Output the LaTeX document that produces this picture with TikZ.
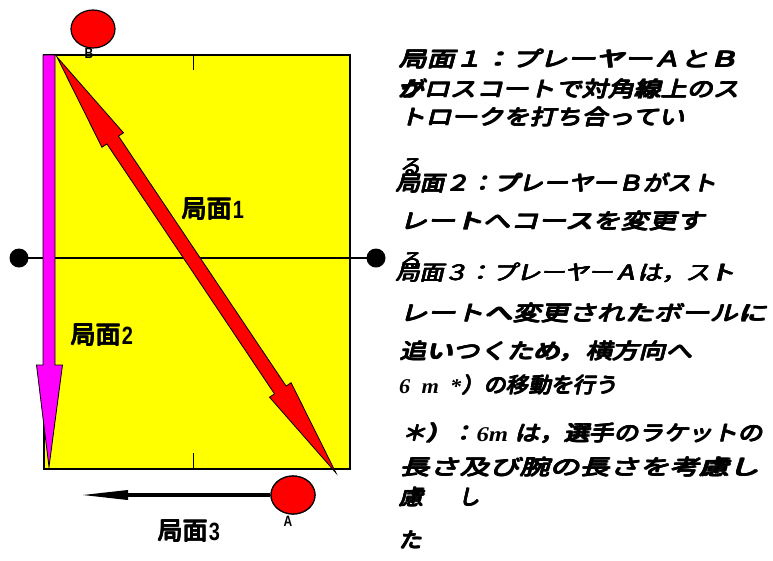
\documentclass[tikz,border=0pt]{standalone}
\usepackage{fontspec}
\usepackage{graphicx}
\usetikzlibrary{calc,arrows.meta,shapes.geometric}
\newfontfamily\cjkit[FakeSlant=0.2]{Noto Sans CJK JP}
\newfontfamily\cjkbf{Noto Sans CJK JP}
\newfontfamily\lsans{Liberation Sans}
\newfontfamily\lserif{Liberation Serif}
\newcommand\fitw[2]{\resizebox{#1}{\height}{#2}}
\newcommand\hv[1]{\rlap{#1}\rlap{\raisebox{0.7pt}{#1}}\rlap{\kern0.9pt\raisebox{0.7pt}{#1}}\rlap{\kern0.45pt\raisebox{0.35pt}{#1}}\kern0.9pt#1}
\newcommand\serbi{\lserif\bfseries\itshape}
\definecolor{courty}{RGB}{255,255,0}
\definecolor{ballr}{RGB}{255,0,0}
\definecolor{magb}{RGB}{255,0,255}
\begin{document}
\begin{tikzpicture}[x=1pt,y=-1pt,
  txt/.style={anchor=west,inner sep=0pt,font=\cjkit\fontsize{21}{21}\selectfont},
  lab/.style={inner sep=0pt,font=\cjkbf\fontsize{25}{25}\selectfont},
  ball/.style={ellipse,draw=black,line width=1.2pt,fill=ballr,minimum width=44pt,minimum height=38pt,inner sep=0pt},
  pl/.style={inner sep=0pt,font=\lsans\bfseries\fontsize{15}{15}\selectfont},
  arrowshape/.style={draw=black,line width=0.8pt,line join=miter}
]
\useasboundingbox (0,0) rectangle (773,560);
% court
\draw[fill=courty,line width=2.5pt] (44,55) rectangle (350,469);
\draw[line width=1pt] (193,55) -- (193,70);
\draw[line width=1pt] (193,453) -- (193,469);
% net
\coordinate (netL) at (19,258);
\coordinate (netR) at (376,258);
\draw[line width=2pt] (netL) -- (netR);
\fill (netL) circle (9.5);
\fill (netR) circle (9.5);
% magenta arrow (situation 2)
\filldraw[arrowshape,fill=magb] (43,55) -- (55,55) -- (55,365) -- (62.5,365) -- (49,467) -- (36.5,365) -- (43,365) -- cycle;
% red diagonal double arrow (situation 1)
\coordinate (T1) at (57,57);
\coordinate (T2) at (336,473);
\coordinate (H1) at ($(T1)!100pt!(T2)$);
\coordinate (H2) at ($(T2)!100pt!(T1)$);
\filldraw[arrowshape,fill=ballr] (T1) -- ($(H1)!13pt!90:(T2)$) -- ($(H1)!7pt!90:(T2)$)
  -- ($(H2)!7pt!-90:(T1)$) -- ($(H2)!13pt!-90:(T1)$) -- (T2)
  -- ($(H2)!13pt!90:(T1)$) -- ($(H2)!7pt!90:(T1)$)
  -- ($(H1)!7pt!-90:(T2)$) -- ($(H1)!13pt!-90:(T2)$) -- cycle;
% players
\node[ball] (ballB) at (93,29) {};
\node[pl] (labB) at (89,53) {\scalebox{0.8}[1]{B}};
\coordinate (arrA) at (80,495);
\node[ball] (ballA) at (293,495) {};
\draw[line width=3.5pt,-{Triangle[length=48pt,width=9pt]}] (ballA.west) -- (arrA);
\node[ball] at (293,495) {};
\node[pl] (labA) at (288,521) {\scalebox{0.8}[1]{A}};
% labels
\node[lab] (s1) at (213,209) {\hv{局面}\lsans\bfseries\scalebox{0.8}[1]{1}};
\node[lab] (s2) at (102,335) {\hv{局面}\lsans\bfseries\scalebox{0.8}[1]{2}};
\node[lab] (s3) at (189,531) {\hv{局面}\lsans\bfseries\scalebox{0.8}[1]{3}};
% description text
\node[txt] (l1) at (398,59) {\fitw{340pt}{\hv{局面１：プレーヤーＡとＢ}}};
\node[txt] (l2) at (397,89) {\fitw{343pt}{\hv{\rlap{が}クロスコートで対角線上のス}}};
\node[txt] (l3) at (399,117) {\fitw{286pt}{\hv{トロークを打ち合ってい}}};
\node[txt] (l4) at (399,167) {\fitw{22pt}{\hv{る}}};
\node[txt] (l5) at (395,183) {\fitw{322pt}{\hv{局面２：プレーヤーＢがスト}}};
\node[txt] (l6) at (399,221) {\fitw{306pt}{\hv{レートへコースを変更す}}};
\node[txt] (l7) at (399,261) {\fitw{22pt}{\hv{る}}};
\node[txt] (l8) at (395,273) {\fitw{340pt}{\hv{局面３：プレーヤーＡは，スト}}};
\node[txt] (l9) at (399,313) {\fitw{368pt}{\hv{レートへ変更されたボールに}}};
\node[txt] (l10) at (399,351) {\fitw{294pt}{\hv{追いつくため，横方向へ}}};
\node[txt] (l11) at (399,385) {\fitw{219pt}{{\serbi 6\ \ m\ \ *}\hv{）の移動を行う}}};
\node[txt] (l12) at (401,433) {\fitw{362pt}{\hv{＊）：}{\serbi 6m }\hv{は，選手のラケットの}}};
\node[txt] (l13) at (399,467) {\fitw{361pt}{\hv{長さ及び腕の長さを考慮し}}};
\node[txt] (l14) at (398,497) {\fitw{26pt}{\hv{慮}}};
\node[txt] (l14b) at (458,497) {\fitw{22pt}{\hv{し}}};
\node[txt] (l15) at (398,540) {\fitw{24pt}{\hv{た}}};
\end{tikzpicture}
\end{document}
